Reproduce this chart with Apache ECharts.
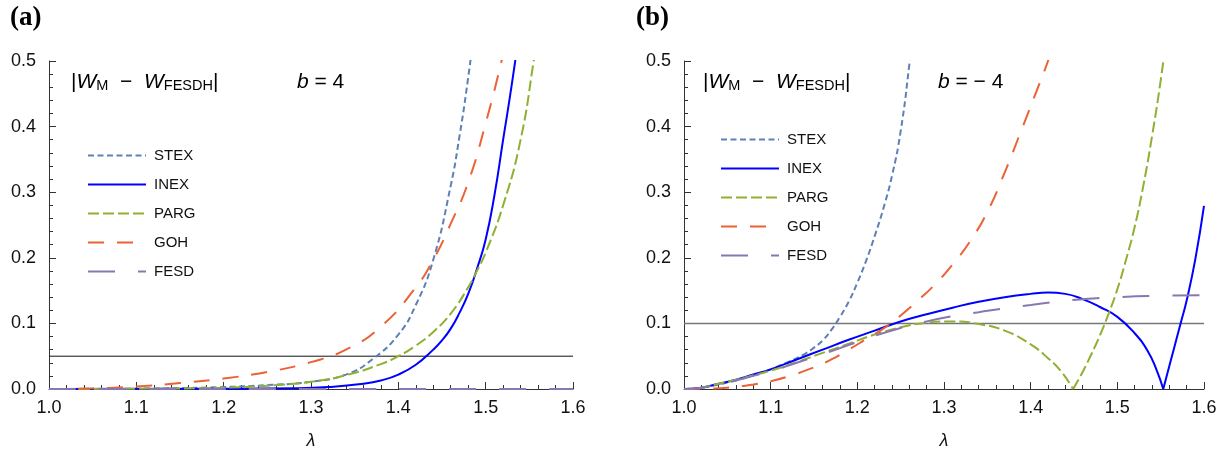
<!DOCTYPE html>
<html>
<head>
<meta charset="utf-8">
<script src="https://cdn.jsdelivr.net/npm/echarts@6/dist/echarts.min.js"></script>
<style>
html, body { margin: 0; padding: 0; background: #fff; }
#chart { width: 1229px; height: 461px; }
</style>
</head>
<body>
<div id="chart"></div>
<script>
// ---- panel (a), b = 4 ----
const lamA_stex = [1.0, 1.1, 1.2, 1.25, 1.3, 1.34, 1.37, 1.40, 1.42, 1.44, 1.46, 1.47, 1.48, 1.49];
const valA_stex = [0, 0.0005, 0.003, 0.006, 0.011, 0.022, 0.045, 0.083, 0.128, 0.197, 0.31, 0.385, 0.475, 0.58];
const lamA_inex = [1.0, 1.2, 1.28, 1.32, 1.36, 1.38, 1.40, 1.42, 1.44, 1.45, 1.46, 1.47, 1.48, 1.49, 1.50, 1.51, 1.52, 1.53, 1.54];
const valA_inex = [0, 0.0002, 0.001, 0.003, 0.008, 0.013, 0.022, 0.037, 0.06, 0.074, 0.092, 0.116, 0.145, 0.183, 0.228, 0.295, 0.38, 0.465, 0.56];
const lamA_parg = [1.0, 1.1, 1.2, 1.25, 1.3, 1.34, 1.38, 1.40, 1.42, 1.44, 1.46, 1.48, 1.49, 1.50, 1.52, 1.54, 1.555, 1.565];
const valA_parg = [0, 0.0005, 0.002, 0.005, 0.011, 0.021, 0.038, 0.05, 0.066, 0.087, 0.115, 0.155, 0.18, 0.208, 0.28, 0.38, 0.50, 0.59];
const lamA_goh = [1.0, 1.05, 1.1, 1.15, 1.2, 1.25, 1.3, 1.34, 1.38, 1.42, 1.44, 1.46, 1.48, 1.50, 1.52, 1.53];
const valA_goh = [0, 0.001, 0.004, 0.009, 0.016, 0.026, 0.041, 0.06, 0.095, 0.155, 0.197, 0.252, 0.315, 0.405, 0.51, 0.57];
const lamA_fesd = [1.0, 1.6];
const valA_fesd = [0, 0];
const refA = 0.05;

// ---- panel (b), b = -4 ----
const lamB_stex = [1.0, 1.02, 1.04, 1.06, 1.08, 1.10, 1.12, 1.14, 1.15, 1.16, 1.17, 1.18, 1.19, 1.20, 1.21, 1.22, 1.23, 1.24, 1.25, 1.26, 1.265];
const valB_stex = [0, 0.002, 0.007, 0.013, 0.021, 0.030, 0.041, 0.054, 0.063, 0.074, 0.090, 0.110, 0.133, 0.162, 0.195, 0.233, 0.275, 0.325, 0.393, 0.495, 0.56];
const lamB_inex = [1.0, 1.02, 1.04, 1.06, 1.08, 1.10, 1.13, 1.16, 1.19, 1.22, 1.25, 1.28, 1.31, 1.34, 1.37, 1.40, 1.42, 1.44, 1.46, 1.48, 1.50, 1.52, 1.535, 1.545, 1.553, 1.56, 1.565, 1.573, 1.58, 1.59, 1.60];
const valB_inex = [0, 0.002, 0.008, 0.014, 0.022, 0.030, 0.045, 0.060, 0.075, 0.089, 0.103, 0.114, 0.124, 0.133, 0.140, 0.145, 0.147, 0.145, 0.137, 0.125, 0.110, 0.085, 0.058, 0.03, 0, 0.035, 0.06, 0.1, 0.135, 0.198, 0.279];
const lamB_parg = [1.0, 1.02, 1.04, 1.06, 1.08, 1.10, 1.13, 1.16, 1.19, 1.22, 1.25, 1.28, 1.31, 1.34, 1.37, 1.40, 1.42, 1.435, 1.449, 1.46, 1.47, 1.48, 1.49, 1.50, 1.51, 1.52, 1.53, 1.54, 1.55, 1.556];
const valB_parg = [0, 0.002, 0.008, 0.014, 0.021, 0.028, 0.041, 0.055, 0.069, 0.083, 0.094, 0.101, 0.103, 0.099, 0.089, 0.068, 0.047, 0.027, 0, 0.026, 0.053, 0.082, 0.115, 0.152, 0.197, 0.247, 0.31, 0.385, 0.47, 0.53];
const lamB_goh = [1.0, 1.03, 1.05, 1.08, 1.10, 1.12, 1.15, 1.17, 1.19, 1.21, 1.23, 1.25, 1.27, 1.29, 1.31, 1.33, 1.35, 1.37, 1.39, 1.41, 1.42, 1.43];
const valB_goh = [0, 0.0005, 0.002, 0.007, 0.012, 0.019, 0.033, 0.045, 0.060, 0.076, 0.092, 0.112, 0.135, 0.16, 0.19, 0.225, 0.27, 0.33, 0.397, 0.465, 0.5, 0.54];
const lamB_fesd = [1.0, 1.02, 1.04, 1.06, 1.08, 1.10, 1.13, 1.16, 1.19, 1.22, 1.25, 1.28, 1.31, 1.34, 1.37, 1.40, 1.43, 1.46, 1.50, 1.55, 1.60];
const valB_fesd = [0, 0.002, 0.007, 0.013, 0.020, 0.027, 0.040, 0.053, 0.067, 0.081, 0.093, 0.103, 0.111, 0.117, 0.123, 0.128, 0.133, 0.137, 0.140, 0.142, 0.143];
const refB = 0.1;

const names = ['STEX', 'INEX', 'PARG', 'GOH', 'FESD'];
const xTicks = { min: 1.0, max: 1.6, step: 0.1 };
const yTicks = { min: 0, max: 0.5, step: 0.1 };

const looks = {
    STEX: { color: '#5E81B5', type: [6, 3.5] },
    INEX: { color: '#0000FF', type: 'solid' },
    PARG: { color: '#8FB032', type: [11, 4] },
    GOH: { color: '#EB6235', type: [16, 13] },
    FESD: { color: '#8778B3', type: [27, 23] }
};

const font = 'Liberation Sans';

function pairs(xs, ys) {
    return xs.map((x, i) => [x, ys[i]]);
}

function curve(name, idx, data) {
    return {
        name: name,
        type: 'line',
        xAxisIndex: idx,
        yAxisIndex: idx,
        data: data,
        smooth: 0.5,
        symbol: 'none',
        lineStyle: { color: looks[name].color, type: looks[name].type, width: 2 },
        itemStyle: { color: looks[name].color }
    };
}

// a curve that touches zero in the middle is split there so the V stays sharp
function vCurve(name, idx, xs, ys) {
    let k = ys.findIndex((v, i) => i > 0 && v === 0);
    if (k < 0) return [curve(name, idx, pairs(xs, ys))];
    return [
        curve(name, idx, pairs(xs.slice(0, k + 1), ys.slice(0, k + 1))),
        curve(name, idx, pairs(xs.slice(k), ys.slice(k)))
    ];
}

function refLine(idx, y, color, width) {
    return {
        type: 'line',
        xAxisIndex: idx,
        yAxisIndex: idx,
        data: [[xTicks.min, y], [xTicks.max, y]],
        symbol: 'none',
        silent: true,
        lineStyle: { color: color, width: width },
        z: 1
    };
}

function xAxis(idx) {
    return {
        gridIndex: idx,
        type: 'value',
        min: xTicks.min,
        max: xTicks.max,
        interval: xTicks.step,
        axisLine: { show: true, lineStyle: { color: '#333', width: 1 } },
        axisTick: { show: true, inside: true, length: 7, lineStyle: { color: '#333' } },
        minorTick: { show: true, splitNumber: 5, length: 4, lineStyle: { color: '#333' } },
        splitLine: { show: false },
        axisLabel: { formatter: v => v.toFixed(1), fontSize: 18, color: '#111', margin: 10, fontFamily: font },
        name: 'λ',
        nameLocation: 'middle',
        nameGap: 43,
        nameTextStyle: { fontStyle: 'italic', fontSize: 18, color: '#111', fontFamily: font }
    };
}

function yAxis(idx) {
    return {
        gridIndex: idx,
        type: 'value',
        min: yTicks.min,
        max: yTicks.max,
        interval: yTicks.step,
        axisLine: { show: true, lineStyle: { color: '#333', width: 1 } },
        axisTick: { show: true, inside: true, length: 7, lineStyle: { color: '#333' } },
        minorTick: { show: true, splitNumber: 5, length: 4, lineStyle: { color: '#333' } },
        splitLine: { show: false },
        axisLabel: { formatter: v => v.toFixed(1), fontSize: 18, color: '#111', margin: 13, fontFamily: font }
    };
}

function legend(left, top) {
    return {
        data: names,
        orient: 'vertical',
        left: left,
        top: top,
        padding: 0,
        itemWidth: 58,
        itemHeight: 14,
        itemGap: 14,
        selectedMode: false,
        itemStyle: { color: 'rgba(0,0,0,0)', borderWidth: 0 },
        textStyle: { fontSize: 15, color: '#111', fontFamily: font, padding: [0, 0, 0, 3] }
    };
}

const rich = {
    n: { fontSize: 21, fontFamily: font, verticalAlign: 'bottom', fill: '#000' },
    w: { fontSize: 21, fontFamily: font, fontStyle: 'italic', verticalAlign: 'bottom', fill: '#000' },
    s: { fontSize: 14.5, fontFamily: font, verticalAlign: 'bottom', fill: '#000' }
};
const wText = '{n||}{w|W}{s|M}{n|  −  }{w|W}{s|FESDH}{n||}';

function label(x, y, text) {
    return { type: 'text', x: x, y: y, style: { text: text, rich: rich, fill: '#000' } };
}

let series = [refLine(0, refA, '#111', 1), refLine(1, refB, '#777', 1.5)];
series.push(curve('STEX', 0, pairs(lamA_stex, valA_stex)));
series.push(curve('INEX', 0, pairs(lamA_inex, valA_inex)));
series.push(curve('PARG', 0, pairs(lamA_parg, valA_parg)));
series.push(curve('GOH', 0, pairs(lamA_goh, valA_goh)));
series.push(curve('FESD', 0, pairs(lamA_fesd, valA_fesd)));
series.push(curve('STEX', 1, pairs(lamB_stex, valB_stex)));
series = series.concat(vCurve('INEX', 1, lamB_inex, valB_inex));
series = series.concat(vCurve('PARG', 1, lamB_parg, valB_parg));
series.push(curve('GOH', 1, pairs(lamB_goh, valB_goh)));
series.push(curve('FESD', 1, pairs(lamB_fesd, valB_fesd)));

const chart = echarts.init(document.getElementById('chart'));
chart.setOption({
    animation: false,
    backgroundColor: '#fff',
    grid: [
        { left: 49, right: 656, top: 61, bottom: 72 },
        { left: 684, right: 25, top: 61, bottom: 72 }
    ],
    xAxis: [xAxis(0), xAxis(1)],
    yAxis: [yAxis(0), yAxis(1)],
    legend: [legend(87, 148), legend(720, 132)],
    graphic: [
        { type: 'text', x: 10, y: 5, style: { text: '(a)', font: 'bold 27px "Liberation Serif"', fill: '#000' } },
        { type: 'text', x: 636, y: 5, style: { text: '(b)', font: 'bold 27px "Liberation Serif"', fill: '#000' } },
        label(71, 72, wText),
        label(703, 72, wText),
        label(297, 72, '{w|b}{n| = 4}'),
        label(938, 72, '{w|b}{n| = − 4}')
    ],
    series: series
});
</script>
</body>
</html>
